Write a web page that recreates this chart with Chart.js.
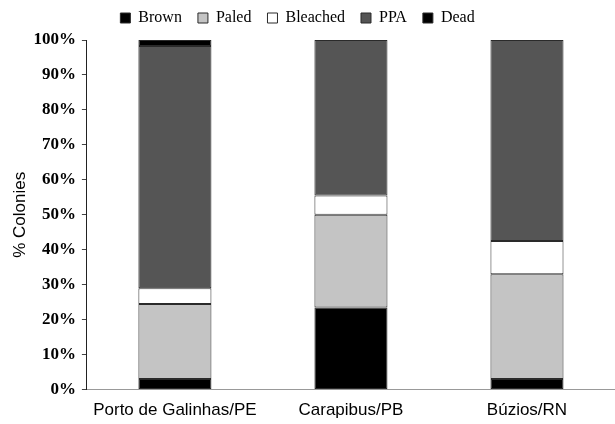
<!DOCTYPE html>
<html>
<head>
<meta charset="utf-8">
<script src="https://cdn.jsdelivr.net/npm/chart.js@4"></script>
<style>
  html, body { margin: 0; padding: 0; background: #fff; }
  #wrap { width: 615px; height: 424px; }
</style>
</head>
<body>
<div id="wrap"><canvas id="grafico" width="615" height="424"></canvas></div>
<script>
// datos (% de colonias)
const sitios = ["Porto de Galinhas/PE", "Carapibus/PB", "Búzios/RN"]
const brown = [3, 23.5, 3]
const paled = [21.5, 26.5, 30]
const bleached = [4.5, 5.5, 9.5]
const ppa = [69.3, 44.5, 57.5]
const dead = [1.7, null, null]
const ticksY = [0, 10, 20, 30, 40, 50, 60, 70, 80, 90, 100]

document.addEventListener("DOMContentLoaded", function () {
    const ctx = document.getElementById("grafico").getContext("2d")

    function serie(label, data, color) {
        return {
            label: label,
            data: data,
            backgroundColor: color,
            borderColor: "#2a2a2a",
            borderWidth: 1,
            borderSkipped: false,
            barPercentage: 0.415,
            categoryPercentage: 1
        }
    }

    // mover la leyenda un poco (en la figura no esta centrada)
    const moverLeyenda = {
        id: "moverLeyenda",
        afterInit(chart) {
            const leyenda = chart.legend
            const dibujar = leyenda.draw
            leyenda.draw = function () {
                const c = this.ctx
                c.save()
                c.translate(-15, -4)
                dibujar.apply(this, arguments)
                c.restore()
            }
        }
    }

    new Chart(ctx, {
        type: "bar",
        data: {
            labels: sitios,
            datasets: [
                serie("Brown", brown, "#000000"),
                serie("Paled", paled, "#c4c4c4"),
                serie("Bleached", bleached, "#ffffff"),
                serie("PPA", ppa, "#555555"),
                serie("Dead", dead, "#000000")
            ]
        },
        plugins: [moverLeyenda],
        options: {
            responsive: false,
            animation: false,
            layout: { padding: { left: 10, right: 0, top: -2, bottom: 0 } },
            plugins: {
                tooltip: { enabled: false },
                legend: {
                    position: "top",
                    labels: {
                        color: "#000",
                        boxWidth: 10,
                        boxHeight: 10,
                        padding: 16,
                        font: { family: "Liberation Serif", size: 16 }
                    }
                }
            },
            scales: {
                x: {
                    stacked: true,
                    grid: { display: false },
                    border: { color: "#999", width: 1 },
                    ticks: {
                        color: "#000",
                        padding: 6,
                        font: { family: "Liberation Sans", size: 17, lineHeight: 0.85 }
                    }
                },
                y: {
                    stacked: true,
                    min: 0,
                    max: 100,
                    afterBuildTicks: function (axis) {
                        axis.ticks = ticksY.map(v => ({ value: v }))
                    },
                    grid: {
                        drawOnChartArea: false,
                        drawTicks: true,
                        tickLength: 5,
                        color: "#444"
                    },
                    border: { color: "#222", width: 1 },
                    title: {
                        display: true,
                        text: "% Colonies",
                        color: "#000",
                        padding: { top: 0, bottom: -3 },
                        font: { family: "Liberation Sans", size: 17 }
                    },
                    ticks: {
                        color: "#000",
                        padding: 6,
                        callback: v => v + "%",
                        font: { family: "Liberation Serif", size: 17, weight: "bold" }
                    }
                }
            }
        }
    })
})
</script>
</body>
</html>
